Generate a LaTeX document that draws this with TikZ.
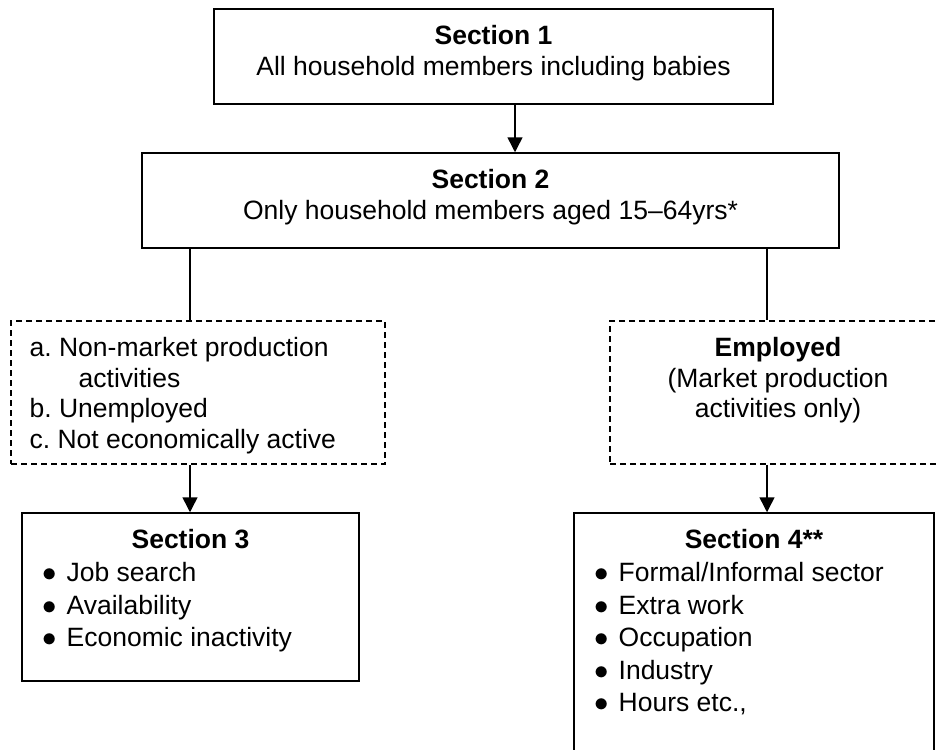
\documentclass[tikz,border=0pt]{standalone}
\usepackage{fontspec}
\setmainfont{Liberation Sans}
\usetikzlibrary{positioning,arrows.meta}
\frenchspacing

\newcommand{\bitem}{\makebox[12.3pt][l]{$\bullet$}}

\begin{document}
\begin{tikzpicture}[x=0.5pt,y=-0.5pt,
    sbox/.style 2 args={rectangle, draw, line width=0.75pt, minimum width=#1, minimum height=#2, inner sep=0pt},
    dbox/.style 2 args={sbox={#1}{#2}, dash pattern=on 3pt off 2pt},
    title/.style={anchor=north, align=center, inner sep=0pt, font=\fontsize{13.25}{15.25}\selectfont},
    plain/.style={anchor=north west, align=left, inner sep=0pt, font=\fontsize{13.25}{15.25}\selectfont},
    bullets/.style={anchor=north west, align=left, inner sep=0pt, font=\fontsize{13.25}{16.25}\selectfont},
    link/.style={line width=0.75pt},
    arrow/.style={link, -{Triangle[length=7.5pt,width=7.5pt]}}]
    \useasboundingbox (0,0) rectangle (936,749);

    \node[sbox={279.5pt}{47.5pt}] (s1) at (493.5,56.5) {};
    \node[sbox={348.5pt}{47.5pt}] (s2) at (490.5,200.5) {};
    \node[dbox={187pt}{71.5pt}] (la) at (198,392.5) {};
    \node[dbox={168pt}{71.5pt}] (emp) at (778,392.5) {};
    \node[sbox={168.5pt}{84pt}] (s3) at (190.5,597) {};
    \node[sbox={180pt}{150pt}] (s4) at (754,663) {};

    \node[title, below=8.5pt of s1.north] (s1t) {\textbf{Section 1}\\All household members including babies};
    \node[title, below=8.5pt of s2.north] (s2t) {\textbf{Section 2}\\Only household members aged 15–64yrs*};
    \node[plain, below right=8.5pt and 9.5pt of la.north west] (lat) {a. Non-market production\\\hspace*{24.5pt}activities\\b. Unemployed\\c. Not economically active};
    \node[title, below=8.5pt of emp.north] (empt) {\textbf{Employed}\\(Market production\\activities only)};
    \node[title, below=8.5pt of s3.north] (s3t) {\textbf{Section 3}};
    \node[bullets, below right=25pt and 10.2pt of s3.north west] (s3l) {\bitem Job search\\\bitem Availability\\\bitem Economic inactivity};
    \node[title, below=8.5pt of s4.north] (s4t) {\textbf{Section 4**}};
    \node[bullets, below right=25pt and 10.2pt of s4.north west] (s4l) {\bitem Formal/Informal sector\\\bitem Extra work\\\bitem Occupation\\\bitem Industry\\\bitem Hours etc.,};

    \coordinate (tx) at (515,0);
    \coordinate (lx) at (190,0);
    \coordinate (rx) at (767,0);
    \draw[arrow] (s1.south -| tx) -- (s2.north -| tx);
    \draw[link] (s2.south -| lx) -- (la.north -| lx);
    \draw[link] (s2.south -| rx) -- (emp.north -| rx);
    \draw[arrow] (la.south -| lx) -- (s3.north -| lx);
    \draw[arrow] (emp.south -| rx) -- (s4.north -| rx);
\end{tikzpicture}
\end{document}
